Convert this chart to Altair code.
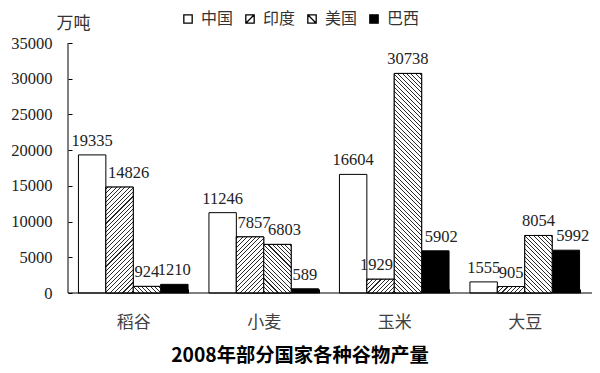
import altair as alt
import pandas as pd

crops = ["稻谷", "小麦", "玉米", "大豆"]
countries = ["中国", "印度", "美国", "巴西"]
china = [19335, 11246, 16604, 1555]
india = [14826, 7857, 1929, 905]
usa = [924, 6803, 30738, 8054]
brazil = [1210, 589, 5902, 5992]
y_ticks = [0, 5000, 10000, 15000, 20000, 25000, 30000, 35000]
y_max = 35000
title_text = "2008年部分国家各种谷物产量"
unit_text = "万吨"

series = {"中国": china, "印度": india, "美国": usa, "巴西": brazil}
rows = []
for i, crop in enumerate(crops):
    for c in countries:
        rows.append({"crop": crop, "country": c, "value": series[c][i]})
df = pd.DataFrame(rows)

# horizontal label nudges (px) used by the reference to keep neighbouring labels apart
label_nudge = {("稻谷", "印度"): 9, ("小麦", "印度"): 4, ("小麦", "美国"): 7,
               ("玉米", "印度"): -4, ("玉米", "巴西"): 6, ("大豆", "巴西"): 7}

W, H = 522, 250
CJK = "Noto Sans CJK SC"
SERIF = "Liberation Serif"
P_IN, P_OUT = 0.16, 0.08
step = W / (len(crops) - P_IN + 2 * P_OUT)
sub_w = step * (1 - P_IN) / len(countries)

x_axis = alt.Axis(title=None, domain=False, offset=-4, tickSize=4, tickBand="extent",
                  tickColor="black", labelFont=CJK, labelFontSize=17, labelColor="#404040",
                  labelPadding=21, labelAngle=0, grid=False)
y_axis = alt.Axis(values=y_ticks, format="d", labelOverlap=False, offset=-4, domain=False,
                  tickSize=4, tickColor="black",
                  labelFont=SERIF, labelFontSize=16.5, labelColor="#222", labelPadding=16,
                  grid=False, title=unit_text, titleAngle=0, titleFont=CJK, titleFontSize=17,
                  titleFontWeight="normal", titleColor="#333", titleX=1, titleY=-20,
                  titleAlign="center", titleBaseline="middle")

X = alt.X("crop:N", scale=alt.Scale(domain=crops, paddingInner=P_IN, paddingOuter=P_OUT), axis=x_axis)
XO = alt.XOffset("country:N", scale=alt.Scale(domain=countries, paddingInner=0, paddingOuter=0))
Y = alt.Y("value:Q", scale=alt.Scale(domain=[0, y_max], nice=False), axis=y_axis)

base = alt.Chart(df)

bars = base.mark_bar(stroke="black", strokeWidth=1).encode(
    x=X, xOffset=XO, y=Y,
    fill=alt.condition("datum.country === '巴西'", alt.value("black"), alt.value("white")),
)


def hatch(w, h, direction, period=4.3, thick=1.1, color="#2a2a2a"):
    L = w + h
    n = max(1, round(L / period))
    d = thick / (L / n)
    stops = [alt.GradientStop(offset=0, color="white")]
    for k in range(n):
        a = (k + 0.5 - d / 2) / n
        b = (k + 0.5 + d / 2) / n
        stops += [alt.GradientStop(offset=a, color="white"),
                  alt.GradientStop(offset=a, color=color),
                  alt.GradientStop(offset=b, color=color),
                  alt.GradientStop(offset=b, color="white")]
    stops.append(alt.GradientStop(offset=1, color="white"))
    s = L / (w * w + h * h)
    if direction == "/":
        x1, y1, x2, y2 = 0, 0, s * w, s * h
    else:
        x1, y1, x2, y2 = 0, 1, s * w, 1 - s * h
    return alt.LinearGradient(gradient="linear", stops=stops, x1=x1, y1=y1, x2=x2, y2=y2)


hatch_layers = []
for c, direction in [("印度", "/"), ("美国", "\\")]:
    for i, crop in enumerate(crops):
        v = series[c][i]
        h = v * H / y_max
        g = hatch(sub_w, h, direction)
        layer = base.transform_filter(
            f"datum.crop === '{crop}' && datum.country === '{c}'"
        ).mark_bar(fill=g, stroke="black", strokeWidth=1).encode(x=X, xOffset=XO, y=Y)
        hatch_layers.append(layer)

text_kw = dict(dy=-14, font=SERIF, fontSize=16.5, color="#222", align="center", baseline="middle")
text_enc = dict(x=X, xOffset=XO, y=Y, text=alt.Text("value:Q", format="d"))
nudged = " || ".join(f"(datum.crop === '{k[0]}' && datum.country === '{k[1]}')" for k in label_nudge)
label_layers = [base.transform_filter(f"!({nudged})").mark_text(**text_kw).encode(**text_enc)]
for (crop, c), dx in label_nudge.items():
    label_layers.append(
        base.transform_filter(f"datum.crop === '{crop}' && datum.country === '{c}'")
        .mark_text(dx=dx, **text_kw).encode(**text_enc))

paths = [
    "M-1,-1H1V1H-1Z",
    "M-1,-1H1V1H-1Z M-1,1L1,-1",
    "M-1,-1H1V1H-1Z M-1,-1L1,1",
    "M-1,-1H1V1H-1Z",
]
leg = alt.Legend(title=None, orient="none", legendX=112, legendY=-32, direction="horizontal",
                 labelFont=CJK, labelFontSize=16, labelColor="#333", symbolSize=70,
                 symbolStrokeWidth=1.3, symbolOpacity=1,
                 columnPadding=8, labelOffset=5)
legend_layer = base.mark_point(filled=False, strokeWidth=1.3, size=0).encode(
    x=alt.value(0), y=alt.value(H),
    shape=alt.Shape("country:N", scale=alt.Scale(domain=countries, range=paths), legend=leg),
    fill=alt.Fill("country:N", scale=alt.Scale(domain=countries,
                                                range=["white", "white", "white", "black"]),
                  legend=leg),
    stroke=alt.Stroke("country:N", scale=alt.Scale(domain=countries,
                                                    range=["black", "black", "black", "black"]),
                      legend=leg),
)

one = pd.DataFrame({"k": [0]})
y_line = alt.Chart(one).mark_rule(color="black", strokeWidth=1).encode(
    x=alt.value(0), y=alt.value(0), y2=alt.value(H))
x_line = alt.Chart(one).mark_rule(color="black", strokeWidth=1).encode(
    x=alt.value(0), x2=alt.value(W + 2), y=alt.value(H))

chart = alt.layer(legend_layer, bars, *hatch_layers, *label_layers, y_line, x_line).properties(
    width=W, height=H,
    autosize=alt.AutoSizeParams(type="none"),
    padding={"left": 60, "top": 35, "right": 2, "bottom": 72},
    title=alt.TitleParams(title_text, orient="bottom", font=CJK, fontSize=19.3,
                          fontWeight="bold", color="black", anchor="middle", dx=-29, offset=17),
).configure_view(stroke=None)

chart.save("out.html", embed_options={"renderer": "svg", "actions": False})
